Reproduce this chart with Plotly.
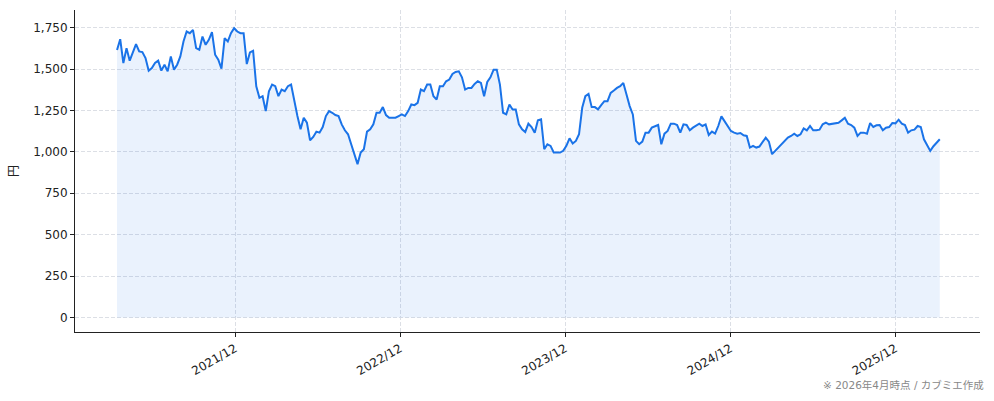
import pandas as pd
import plotly.graph_objects as go

# Weekly closing prices (円)
start_date = "2021-03-15"
prices = [
    1615, 1680, 1536, 1626, 1550, 1606, 1650, 1606, 1602, 1566,
    1490, 1506, 1536, 1550, 1490, 1526, 1486, 1576, 1496, 1526,
    1576, 1666, 1726, 1716, 1736, 1626, 1616, 1696, 1646, 1676,
    1722, 1586, 1556, 1502, 1686, 1666, 1716, 1746, 1726, 1716,
    1716, 1530, 1600, 1610, 1396, 1326, 1336, 1246, 1366, 1406,
    1396, 1336, 1376, 1366, 1396, 1406, 1306, 1216, 1136, 1206,
    1176, 1070, 1090, 1122, 1116, 1150, 1216, 1246, 1236, 1222,
    1216, 1166, 1130, 1106, 1046, 986, 926, 996, 1016, 1122,
    1136, 1166, 1236, 1236, 1270, 1222, 1206, 1206, 1206, 1216,
    1226, 1216, 1246, 1286, 1282, 1296, 1376, 1366, 1406, 1406,
    1336, 1316, 1396, 1396, 1426, 1436, 1470, 1482, 1486, 1450,
    1376, 1386, 1386, 1410, 1426, 1416, 1336, 1422, 1450, 1496,
    1496, 1406, 1236, 1226, 1286, 1256, 1256, 1166, 1136, 1120,
    1170, 1150, 1116, 1190, 1196, 1016, 1046, 1036, 996, 996,
    996, 1006, 1036, 1082, 1050, 1066, 1106, 1266, 1336, 1350,
    1270, 1270, 1256, 1282, 1306, 1306, 1356, 1370, 1386, 1396,
    1416, 1346, 1276, 1226, 1066, 1046, 1062, 1116, 1116, 1146,
    1156, 1162, 1046, 1110, 1126, 1170, 1170, 1162, 1116, 1166,
    1162, 1130, 1146, 1160, 1170, 1156, 1166, 1102, 1122, 1110,
    1156, 1214, 1186, 1162, 1126, 1116, 1110, 1114, 1100, 1096,
    1026, 1036, 1026, 1032, 1060, 1086, 1062, 986, 1006, 1026,
    1046, 1060, 1086, 1096, 1110, 1096, 1106, 1142, 1130, 1156,
    1130, 1130, 1134, 1166, 1176, 1166, 1170, 1174, 1176, 1190,
    1206, 1170, 1162, 1146, 1096, 1116, 1116, 1110, 1174, 1150,
    1160, 1162, 1130, 1146, 1150, 1174, 1172, 1194, 1170, 1162,
    1116, 1130, 1134, 1156, 1150, 1076, 1036, 1006, 1034, 1056,
    1076,
]
dates = pd.date_range(start=start_date, periods=len(prices), freq="7D")

tick_dates = ["2021-12-01", "2022-12-01", "2023-12-01", "2024-12-01", "2025-12-01"]
tick_labels = ["2021/12", "2022/12", "2023/12", "2024/12", "2025/12"]
y_ticks = [0, 250, 500, 750, 1000, 1250, 1500, 1750]
y_labels = ["0", "250", "500", "750", "1,000", "1,250", "1,500", "1,750"]

FONT = "DejaVu Sans, Noto Sans CJK JP, sans-serif"
CJK = "Noto Sans CJK JP, sans-serif"
LINE = "#1a73e8"
GRID = "#dcdfe5"

fig = go.Figure()
fig.add_trace(go.Scatter(
    x=dates, y=prices, mode="lines",
    line=dict(color=LINE, width=2),
    fill="tozeroy", fillcolor="rgba(26,115,232,0.09)",
    hoverinfo="x+y", showlegend=False,
))

fig.update_layout(
    width=994, height=401,
    margin=dict(l=75, r=14, t=10, b=69),
    paper_bgcolor="white", plot_bgcolor="white",
    font=dict(family=FONT, size=12, color="#222"),
    xaxis=dict(
        range=["2020-12-12", "2026-06-06"],
        tickmode="array", tickvals=tick_dates, ticktext=tick_labels,
        tickangle=-30, ticks="outside", ticklen=4, tickcolor="#222",
        showline=True, linecolor="#222", linewidth=1,
        showgrid=True, gridcolor=GRID, griddash="4px,2px", gridwidth=1,
        zeroline=False, tickfont=dict(size=12, color="#222", family=FONT),
    ),
    yaxis=dict(
        range=[-87, 1856],
        tickmode="array", tickvals=y_ticks, ticktext=y_labels,
        ticks="outside", ticklen=4, tickcolor="#222",
        showline=True, linecolor="#222", linewidth=1,
        showgrid=True, gridcolor=GRID, griddash="4px,2px", gridwidth=1,
        zeroline=False, tickfont=dict(size=12, color="#222", family=FONT),
        title=dict(text="円", standoff=12, font=dict(size=12, color="#222", family=CJK)),
    ),
    annotations=[dict(
        text="※ 2026年4月時点 / カブミエ作成",
        xref="paper", yref="paper", x=1, y=-0.165,
        xanchor="right", yanchor="middle", xshift=6,
        showarrow=False, font=dict(size=10.5, color="#888", family=FONT),
    )],
)

fig.write_html("out.html")
